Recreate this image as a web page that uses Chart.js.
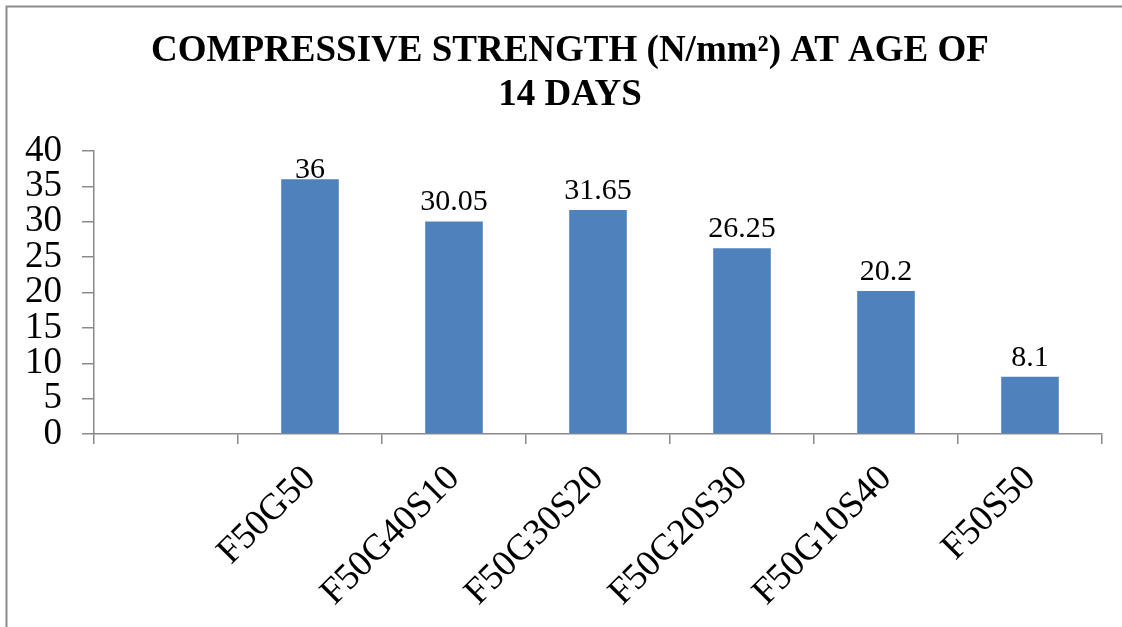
<!DOCTYPE html>
<html>
<head>
<meta charset="utf-8">
<script src="https://cdn.jsdelivr.net/npm/chart.js@4/dist/chart.umd.min.js"></script>
<style>
  html, body { margin: 0; padding: 0; background: #ffffff; overflow: hidden; }
  #wrap { width: 1122px; height: 627px; position: relative; }
</style>
</head>
<body>
<div id="wrap"><canvas id="chart" width="1122" height="627"></canvas></div>
<script>
// Mix designations (the first slot is left empty on the axis)
const categories = ['', 'F50G50', 'F50G40S10', 'F50G30S20', 'F50G20S30', 'F50G10S40', 'F50S50'];
// Compressive strength at 14 days, N/mm²
const strength = [null, 36, 30.05, 31.65, 26.25, 20.2, 8.1];
// Value labels shown above the bars
const strengthLabels = ['', '36', '30.05', '31.65', '26.25', '20.2', '8.1'];
const titleLines = ['COMPRESSIVE STRENGTH (N/mm²) AT AGE OF', '14 DAYS'];
const yMin = 0, yMax = 40, yStep = 5;

const SERIF = '"Liberation Serif", "Times New Roman", serif';
const AXIS_GREY = '#8a8a8a';

// Frame lines along the top and left edges of the chart object
const framePlugin = {
  id: 'frame',
  afterDraw(chart) {
    const ctx = chart.ctx;
    ctx.save();
    ctx.strokeStyle = '#8c8c8c';
    ctx.lineWidth = 2;
    ctx.beginPath();
    ctx.moveTo(6.5, chart.height);
    ctx.lineTo(6.5, 6.5);
    ctx.lineTo(chart.width, 6.5);
    ctx.stroke();
    ctx.restore();
  }
};

// Two-line bold title, centred on the chart object
const titlePlugin = {
  id: 'chartTitle',
  afterDraw(chart) {
    const ctx = chart.ctx;
    ctx.save();
    ctx.font = 'bold 37px ' + SERIF;
    ctx.fillStyle = '#000000';
    ctx.textAlign = 'center';
    ctx.textBaseline = 'middle';
    const cx = 570;
    titleLines.forEach((line, i) => {
      ctx.fillText(line, cx, 51 + i * 44);
    });
    ctx.restore();
  }
};

// Value labels above each bar, kept inside the plot area
const valueLabelPlugin = {
  id: 'valueLabels',
  afterDatasetsDraw(chart) {
    const ctx = chart.ctx;
    const area = chart.chartArea;
    const meta = chart.getDatasetMeta(0);
    ctx.save();
    ctx.font = '30px ' + SERIF;
    ctx.fillStyle = '#000000';
    ctx.textAlign = 'center';
    ctx.textBaseline = 'alphabetic';
    meta.data.forEach((bar, i) => {
      const txt = strengthLabels[i];
      if (!txt || strength[i] == null) return;
      const capH = 20;
      let base = bar.y - 11;
      if (base - capH < area.top + 7) base = area.top + 7 + capH;
      ctx.fillText(txt, bar.x, base);
    });
    ctx.restore();
  }
};

const ctx = document.getElementById('chart').getContext('2d');
new Chart(ctx, {
  type: 'bar',
  data: {
    labels: categories,
    datasets: [{
      data: strength,
      backgroundColor: '#4f81bd',
      borderWidth: 0,
      categoryPercentage: 1.0,
      barPercentage: 0.4
    }]
  },
  options: {
    responsive: false,
    animation: false,
    devicePixelRatio: 1,
    layout: { padding: { left: 18, right: 20, top: 151, bottom: 0 } },
    plugins: {
      legend: { display: false },
      tooltip: { enabled: false },
      title: { display: false }
    },
    scales: {
      x: {
        offset: true,
        grid: {
          offset: true,
          drawOnChartArea: false,
          drawTicks: true,
          tickLength: 10,
          color: AXIS_GREY,
          lineWidth: 1.5
        },
        border: { display: true, color: AXIS_GREY, width: 1.5 },
        ticks: {
          autoSkip: false,
          minRotation: 45,
          maxRotation: 45,
          padding: 13,
          color: '#000000',
          font: { family: SERIF, size: 37 }
        },
        afterFit(scale) { scale.height = 193; }
      },
      y: {
        min: yMin,
        max: yMax,
        grid: {
          drawOnChartArea: false,
          drawTicks: true,
          tickLength: 12,
          color: AXIS_GREY,
          lineWidth: 1.5
        },
        border: { display: true, color: AXIS_GREY, width: 1.5 },
        ticks: {
          stepSize: yStep,
          autoSkip: false,
          padding: 20,
          color: '#000000',
          font: { family: SERIF, size: 37 }
        },
        afterFit(scale) { scale.width = 76; }
      }
    }
  },
  plugins: [framePlugin, titlePlugin, valueLabelPlugin]
});
</script>
</body>
</html>
